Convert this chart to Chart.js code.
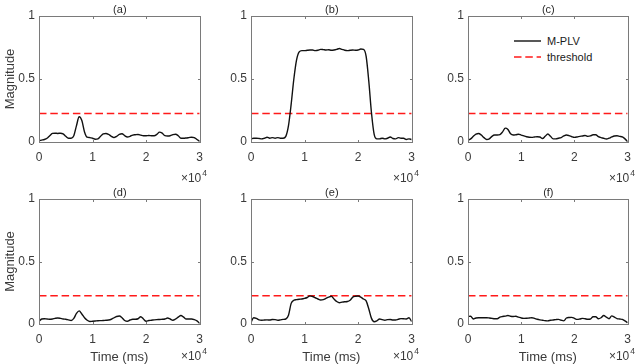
<!DOCTYPE html>
<html><head><meta charset="utf-8">
<script src="https://cdn.jsdelivr.net/npm/chart.js@4"></script>
<style>
html,body{margin:0;padding:0;background:#fff;}
#wrap{position:relative;width:640px;height:364px;overflow:hidden;font-family:"Liberation Sans",Arial,sans-serif;}
canvas{position:absolute;}
.exp{position:absolute;font-size:12px;color:#3a3a3a;line-height:12px;white-space:nowrap;}
.exp sup{font-size:8.5px;vertical-align:0;position:relative;top:-6px;margin-left:1px;}
.legend{position:absolute;left:514px;top:33px;font-size:11px;color:#1a1a1a;}
.legend .row{display:flex;align-items:center;height:16px;}
.legend svg{margin-right:6px;display:block;}
</style></head>
<body><div id="wrap">
<div class="legend">
  <div class="row"><svg width="27" height="4"><line x1="0" y1="2" x2="27" y2="2" stroke="#111" stroke-width="1.4"/></svg><span id="lg1"></span></div>
  <div class="row"><svg width="27" height="4"><line x1="0" y1="2" x2="27" y2="2" stroke="#ff1a1a" stroke-width="1.5" stroke-dasharray="7.5 3.8"/></svg><span id="lg2"></span></div>
</div>
</div>
<script>
const times = [0,500,1000,1500,2000,2500,3000,3500,4000,4500,5000,5500,6000,6500,7000,7500,8000,8500,9000,9500,
  10000,10500,11000,11500,12000,12500,13000,13500,14000,14500,15000,15500,16000,16500,17000,17500,18000,18500,19000,19500,
  20000,20500,21000,21500,22000,22500,23000,23500,24000,24500,25000,25500,26000,26500,27000,27500,28000,28500,29000,29500,30000];

const seriesA = [0.01,0.015,0.02,0.03,0.05,0.068,0.07,0.068,0.07,0.065,0.045,0.03,0.03,0.05,0.13,0.2,0.17,0.08,0.038,0.035,
  0.03,0.022,0.025,0.045,0.065,0.068,0.06,0.045,0.035,0.045,0.06,0.065,0.05,0.04,0.045,0.055,0.058,0.06,0.055,0.05,
  0.05,0.052,0.05,0.05,0.06,0.078,0.07,0.05,0.048,0.05,0.058,0.062,0.05,0.03,0.03,0.032,0.035,0.038,0.035,0.02,0.005];
const seriesB = [0.025,0.03,0.03,0.028,0.025,0.03,0.038,0.03,0.035,0.03,0.035,0.03,0.03,0.045,0.13,0.3,0.5,0.65,0.715,0.725,
  0.725,0.728,0.73,0.73,0.725,0.728,0.735,0.733,0.73,0.732,0.728,0.73,0.735,0.742,0.735,0.728,0.725,0.728,0.73,0.728,
  0.73,0.738,0.735,0.68,0.48,0.23,0.06,0.025,0.025,0.03,0.025,0.03,0.04,0.028,0.025,0.035,0.03,0.03,0.02,0.025,0.02];
const seriesC = [0.015,0.025,0.045,0.062,0.068,0.055,0.035,0.02,0.025,0.045,0.055,0.055,0.058,0.08,0.11,0.1,0.065,0.055,0.058,0.062,
  0.055,0.048,0.042,0.038,0.037,0.04,0.042,0.04,0.028,0.045,0.063,0.045,0.025,0.025,0.03,0.035,0.048,0.055,0.05,0.042,
  0.037,0.04,0.045,0.048,0.052,0.045,0.048,0.058,0.058,0.042,0.035,0.03,0.024,0.03,0.04,0.048,0.05,0.045,0.04,0.025,0.003];
const seriesD = [0.02,0.04,0.042,0.04,0.038,0.04,0.045,0.048,0.045,0.04,0.038,0.033,0.028,0.045,0.085,0.105,0.08,0.05,0.03,0.02,
  0.022,0.024,0.026,0.027,0.028,0.03,0.032,0.038,0.05,0.06,0.064,0.05,0.028,0.022,0.032,0.038,0.038,0.042,0.058,0.04,
  0.022,0.028,0.03,0.033,0.035,0.036,0.038,0.04,0.048,0.04,0.03,0.04,0.055,0.068,0.055,0.04,0.04,0.04,0.035,0.025,0.005];
const seriesE = [0.015,0.05,0.045,0.033,0.03,0.032,0.033,0.032,0.036,0.035,0.03,0.033,0.037,0.04,0.07,0.165,0.19,0.195,0.198,0.2,
  0.205,0.212,0.225,0.22,0.21,0.2,0.192,0.195,0.205,0.215,0.222,0.2,0.18,0.17,0.175,0.178,0.18,0.19,0.215,0.222,
  0.224,0.215,0.2,0.185,0.12,0.045,0.018,0.025,0.04,0.035,0.03,0.035,0.036,0.032,0.032,0.038,0.043,0.042,0.04,0.05,0.02];
const seriesF = [0.06,0.062,0.04,0.048,0.05,0.05,0.05,0.05,0.048,0.045,0.042,0.042,0.055,0.06,0.063,0.068,0.062,0.06,0.062,0.055,
  0.048,0.045,0.046,0.048,0.05,0.045,0.038,0.033,0.03,0.027,0.025,0.03,0.032,0.035,0.037,0.03,0.025,0.048,0.052,0.053,
  0.045,0.037,0.04,0.045,0.042,0.038,0.04,0.058,0.058,0.042,0.05,0.068,0.055,0.042,0.065,0.055,0.043,0.04,0.037,0.025,0.01];

const threshold = 0.227;
const panelTitles = ['(a)','(b)','(c)','(d)','(e)','(f)'];
const xTickLabels = ['0','1','2','3'];
const yTickLabels = ['0','0.5','1'];
const seriesName = 'M-PLV';
const thresholdName = 'threshold';
const yAxisLabel = 'Magnitude';
const xAxisLabel = 'Time (ms)';

const allSeries = [seriesA, seriesB, seriesC, seriesD, seriesE, seriesF];

document.getElementById('lg1').textContent = seriesName;
document.getElementById('lg2').textContent = thresholdName;

// layout of plot boxes (page pixels)
const cols = [[39,207],[251,419],[468,635]];
const rows = [[16,142],[199,324]];
const FONT = '"Liberation Sans", Arial, sans-serif';

const boxPlugin = {
  id: 'box',
  afterDatasetsDraw(chart) {
    const {ctx, chartArea: a, scales: {x, y}} = chart;
    const l = Math.round(a.left) + 0.5, r = Math.round(a.right) + 0.5;
    const t = Math.round(a.top) + 0.5, b = Math.round(a.bottom) + 0.5;
    ctx.save();
    ctx.strokeStyle = '#7a7a7a';
    ctx.lineWidth = 1;
    ctx.beginPath();
    x.ticks.forEach(tk => {
      const px = Math.round(x.getPixelForValue(tk.value)) + 0.5;
      ctx.moveTo(px, b); ctx.lineTo(px, b - 2.5);
      ctx.moveTo(px, t); ctx.lineTo(px, t + 2.5);
    });
    y.ticks.forEach(tk => {
      const py = Math.round(y.getPixelForValue(tk.value)) + 0.5;
      ctx.moveTo(l, py); ctx.lineTo(l + 2.5, py);
      ctx.moveTo(r, py); ctx.lineTo(r - 2.5, py);
    });
    ctx.stroke();
    ctx.strokeRect(l, t, r - l, b - t);
    // panel title centred over the plot box
    const txt = chart.options.plugins.box.text;
    ctx.fillStyle = '#2a2a2a';
    ctx.font = '11px ' + FONT;
    ctx.textAlign = 'center';
    ctx.textBaseline = 'middle';
    ctx.fillText(txt, (a.left + a.right) / 2 + 0.5, a.top - 6.5);
    ctx.restore();
  }
};

const wrap = document.getElementById('wrap');
const YW = 39, TH = 16, XH = 44, PR = 4;

allSeries.forEach((vals, i) => {
  const col = i % 3, row = Math.floor(i / 3);
  const [L, R] = cols[col];
  const [T, B] = rows[row];
  const cv = document.createElement('canvas');
  const w = (R - L) + YW + PR, h = (B - T) + TH + XH;
  cv.width = w; cv.height = h;
  cv.style.left = (L - YW) + 'px';
  cv.style.top = (T - TH) + 'px';
  cv.style.width = w + 'px'; cv.style.height = h + 'px';
  wrap.appendChild(cv);

  const exp = document.createElement('div');
  exp.className = 'exp';
  exp.innerHTML = '\u00d710<sup>4</sup>';
  exp.style.right = (640 - R) + 'px';
  exp.style.top = (row === 0 ? B + 30 : B + 26) + 'px';
  wrap.appendChild(exp);

  new Chart(cv, {
    type: 'line',
    data: {
      datasets: [
        {
          label: seriesName,
          data: times.map((t, k) => ({x: t, y: vals[k]})),
          borderColor: '#111',
          borderWidth: 1.4,
          pointRadius: 0,
          cubicInterpolationMode: 'monotone',
          fill: false
        },
        {
          label: thresholdName,
          data: [{x: times[0], y: threshold}, {x: times[times.length - 1], y: threshold}],
          borderColor: '#ff1a1a',
          borderWidth: 1.5,
          borderDash: [7.5, 3.8],
          pointRadius: 0,
          fill: false
        }
      ]
    },
    options: {
      responsive: false,
      animation: false,
      devicePixelRatio: 1,
      events: [],
      layout: {padding: {left: 0, right: PR, top: TH, bottom: 0}},
      plugins: {
        legend: {display: false},
        tooltip: {enabled: false},
        title: {display: false},
        box: {text: panelTitles[i]}
      },
      scales: {
        x: {
          type: 'linear',
          min: 0, max: 30000,
          grid: {display: false, drawTicks: false},
          border: {display: false},
          ticks: {
            stepSize: 10000,
            padding: 8,
            color: '#3a3a3a',
            maxRotation: 0,
            font: {family: FONT, size: 12},
            callback: (v, k) => xTickLabels[k]
          },
          title: {
            display: row === 1,
            text: xAxisLabel,
            color: '#3a3a3a',
            font: {family: FONT, size: 13, lineHeight: '14px'},
            padding: {top: 0, bottom: 4}
          },
          afterFit: s => { s.height = XH; }
        },
        y: {
          min: 0, max: 1,
          grid: {display: false, drawTicks: false},
          border: {display: false},
          ticks: {
            stepSize: 0.5,
            padding: 4,
            color: '#3a3a3a',
            font: {family: FONT, size: 12},
            callback: (v, k) => yTickLabels[k]
          },
          title: {
            display: col === 0,
            text: yAxisLabel,
            color: '#3a3a3a',
            font: {family: FONT, size: 13, lineHeight: '14px'},
            padding: {top: 3, bottom: 0}
          },
          afterFit: s => { s.width = YW; }
        }
      }
    },
    plugins: [boxPlugin]
  });
});
</script>
</body></html>
